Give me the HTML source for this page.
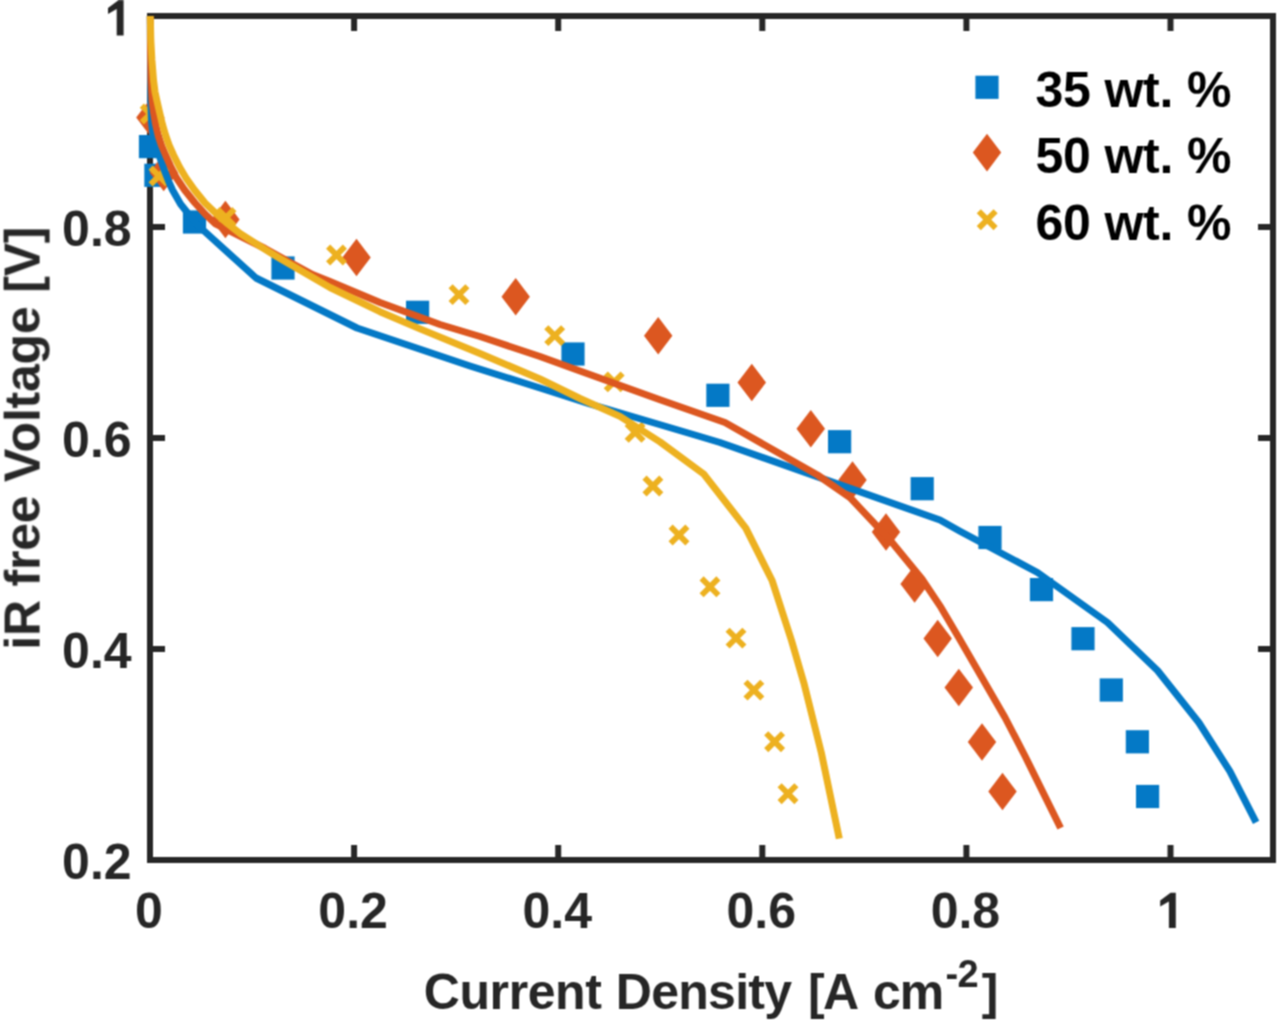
<!DOCTYPE html>
<html><head><meta charset="utf-8"><title>Polarization curves</title>
<style>html,body{margin:0;padding:0;background:#fff;width:1280px;height:1024px;overflow:hidden}svg{display:block}</style>
</head><body>
<svg width="1280" height="1024" viewBox="0 0 1280 1024">
<defs><filter id="soft" x="0" y="0" width="1280" height="1024" filterUnits="userSpaceOnUse" color-interpolation-filters="sRGB"><feConvolveMatrix order="3" kernelMatrix="1 2 1 2 4 2 1 2 1" divisor="16" edgeMode="duplicate"/></filter></defs>
<g filter="url(#soft)">
<rect width="1280" height="1024" fill="#fff"/>
<rect x="150" y="16" width="1123" height="844" fill="none" stroke="#262626" stroke-width="6" stroke-linejoin="miter"/>
<line x1="354.1" y1="860" x2="354.1" y2="845" stroke="#262626" stroke-width="6"/>
<line x1="354.1" y1="16" x2="354.1" y2="31" stroke="#262626" stroke-width="6"/>
<line x1="558.2" y1="860" x2="558.2" y2="845" stroke="#262626" stroke-width="6"/>
<line x1="558.2" y1="16" x2="558.2" y2="31" stroke="#262626" stroke-width="6"/>
<line x1="762.3" y1="860" x2="762.3" y2="845" stroke="#262626" stroke-width="6"/>
<line x1="762.3" y1="16" x2="762.3" y2="31" stroke="#262626" stroke-width="6"/>
<line x1="966.4" y1="860" x2="966.4" y2="845" stroke="#262626" stroke-width="6"/>
<line x1="966.4" y1="16" x2="966.4" y2="31" stroke="#262626" stroke-width="6"/>
<line x1="1170.5" y1="860" x2="1170.5" y2="845" stroke="#262626" stroke-width="6"/>
<line x1="1170.5" y1="16" x2="1170.5" y2="31" stroke="#262626" stroke-width="6"/>
<line x1="150" y1="649.0" x2="165" y2="649.0" stroke="#262626" stroke-width="6"/>
<line x1="1273" y1="649.0" x2="1258" y2="649.0" stroke="#262626" stroke-width="6"/>
<line x1="150" y1="438.0" x2="165" y2="438.0" stroke="#262626" stroke-width="6"/>
<line x1="1273" y1="438.0" x2="1258" y2="438.0" stroke="#262626" stroke-width="6"/>
<line x1="150" y1="227.0" x2="165" y2="227.0" stroke="#262626" stroke-width="6"/>
<line x1="1273" y1="227.0" x2="1258" y2="227.0" stroke="#262626" stroke-width="6"/>
<rect x="138.9" y="135.0" width="23.2" height="23.2" fill="#0479C6"/>
<rect x="144.3" y="163.7" width="23.2" height="23.2" fill="#0479C6"/>
<rect x="182.9" y="210.4" width="23.2" height="23.2" fill="#0479C6"/>
<rect x="271.4" y="256.4" width="23.2" height="23.2" fill="#0479C6"/>
<rect x="406.0" y="300.7" width="23.2" height="23.2" fill="#0479C6"/>
<rect x="561.4" y="342.4" width="23.2" height="23.2" fill="#0479C6"/>
<rect x="706.3" y="383.7" width="23.2" height="23.2" fill="#0479C6"/>
<rect x="828.0" y="430.1" width="23.2" height="23.2" fill="#0479C6"/>
<rect x="910.6" y="477.1" width="23.2" height="23.2" fill="#0479C6"/>
<rect x="978.4" y="525.9" width="23.2" height="23.2" fill="#0479C6"/>
<rect x="1029.9" y="578.0" width="23.2" height="23.2" fill="#0479C6"/>
<rect x="1071.4" y="627.1" width="23.2" height="23.2" fill="#0479C6"/>
<rect x="1099.7" y="678.4" width="23.2" height="23.2" fill="#0479C6"/>
<rect x="1125.8" y="730.2" width="23.2" height="23.2" fill="#0479C6"/>
<rect x="1136.0" y="784.9" width="23.2" height="23.2" fill="#0479C6"/>
<polygon points="150.4,98.7 164.6,117.5 150.4,136.3 136.2,117.5" fill="#DC5720"/>
<polygon points="163.7,153.7 177.9,172.5 163.7,191.3 149.5,172.5" fill="#DC5720"/>
<polygon points="225.4,200.7 239.6,219.5 225.4,238.3 211.2,219.5" fill="#DC5720"/>
<polygon points="356.5,238.7 370.7,257.5 356.5,276.3 342.3,257.5" fill="#DC5720"/>
<polygon points="515.7,277.9 529.9,296.7 515.7,315.5 501.5,296.7" fill="#DC5720"/>
<polygon points="658.2,316.9 672.4,335.7 658.2,354.5 644.0,335.7" fill="#DC5720"/>
<polygon points="751.8,363.7 766.0,382.5 751.8,401.3 737.5,382.5" fill="#DC5720"/>
<polygon points="810.8,409.9 825.0,428.8 810.8,447.6 796.5,428.8" fill="#DC5720"/>
<polygon points="852.5,461.2 866.7,480.0 852.5,498.8 838.3,480.0" fill="#DC5720"/>
<polygon points="886.0,513.2 900.2,532.0 886.0,550.8 871.8,532.0" fill="#DC5720"/>
<polygon points="914.6,565.2 928.8,584.0 914.6,602.8 900.4,584.0" fill="#DC5720"/>
<polygon points="937.7,619.7 951.9,638.5 937.7,657.3 923.5,638.5" fill="#DC5720"/>
<polygon points="958.8,668.7 973.0,687.5 958.8,706.3 944.5,687.5" fill="#DC5720"/>
<polygon points="982.0,723.2 996.2,742.0 982.0,760.8 967.8,742.0" fill="#DC5720"/>
<polygon points="1002.5,772.7 1016.7,791.5 1002.5,810.3 988.3,791.5" fill="#DC5720"/>
<path d="M141.8,105.6L158.6,122.4M158.6,105.6L141.8,122.4" stroke="#EDB120" stroke-width="5.8" fill="none"/>
<path d="M150.6,167.6L167.4,184.4M167.4,167.6L150.6,184.4" stroke="#EDB120" stroke-width="5.8" fill="none"/>
<path d="M217.6,209.1L234.4,225.9M234.4,209.1L217.6,225.9" stroke="#EDB120" stroke-width="5.8" fill="none"/>
<path d="M328.1,246.6L344.9,263.4M344.9,246.6L328.1,263.4" stroke="#EDB120" stroke-width="5.8" fill="none"/>
<path d="M450.6,286.2L467.4,303.0M467.4,286.2L450.6,303.0" stroke="#EDB120" stroke-width="5.8" fill="none"/>
<path d="M546.3,327.2L563.1,344.0M563.1,327.2L546.3,344.0" stroke="#EDB120" stroke-width="5.8" fill="none"/>
<path d="M605.8,373.5L622.6,390.3M622.6,373.5L605.8,390.3" stroke="#EDB120" stroke-width="5.8" fill="none"/>
<path d="M626.7,423.9L643.5,440.7M643.5,423.9L626.7,440.7" stroke="#EDB120" stroke-width="5.8" fill="none"/>
<path d="M644.5,477.6L661.3,494.4M661.3,477.6L644.5,494.4" stroke="#EDB120" stroke-width="5.8" fill="none"/>
<path d="M670.6,526.6L687.4,543.4M687.4,526.6L670.6,543.4" stroke="#EDB120" stroke-width="5.8" fill="none"/>
<path d="M701.6,578.4L718.4,595.2M718.4,578.4L701.6,595.2" stroke="#EDB120" stroke-width="5.8" fill="none"/>
<path d="M727.6,629.7L744.4,646.5M744.4,629.7L727.6,646.5" stroke="#EDB120" stroke-width="5.8" fill="none"/>
<path d="M745.5,681.7L762.3,698.5M762.3,681.7L745.5,698.5" stroke="#EDB120" stroke-width="5.8" fill="none"/>
<path d="M766.2,733.3L783.0,750.1M783.0,733.3L766.2,750.1" stroke="#EDB120" stroke-width="5.8" fill="none"/>
<path d="M779.6,785.3L796.4,802.1M796.4,785.3L779.6,802.1" stroke="#EDB120" stroke-width="5.8" fill="none"/>
<g fill="none" stroke-width="7" stroke-linejoin="round">
<polyline points="150.3,16.0 150.5,60.0 150.8,100.0 151.5,122.0 153.0,135.0 155.5,145.0 158.3,153.0 161.5,162.0 165.0,172.0 168.5,181.0 172.5,190.0 180.5,204.0 186.5,211.5 197.5,225.0 256.0,278.0 357.0,328.0 470.0,366.0 540.0,388.0 590.0,404.0 700.0,436.5 720.0,442.5 940.0,520.0 960.0,531.2 1037.5,572.5 1107.5,622.5 1157.5,670.5 1198.8,722.5 1229.8,771.2 1256.1,822.4" stroke="#0479C6"/>
<polyline points="150.3,16.0 150.5,50.0 151.0,80.0 152.0,100.0 153.5,112.0 155.5,124.0 158.3,136.0 161.7,146.0 165.5,155.0 170.5,166.0 176.5,178.0 184.6,190.0 195.0,203.0 205.0,214.0 215.0,223.5 230.0,231.0 250.0,241.0 265.0,248.5 284.0,259.0 312.5,274.5 330.0,281.5 380.0,302.5 440.0,324.5 480.0,336.5 540.0,356.5 580.0,371.0 660.0,399.7 725.0,422.5 817.5,475.0 850.0,497.5 890.0,540.0 922.0,579.0 941.0,607.4 959.0,638.0 1005.0,717.5 1025.0,756.0 1060.6,828.0" stroke="#DC5720"/>
<polyline points="150.3,16.0 150.8,40.0 151.9,60.0 153.5,80.0 155.0,92.0 157.2,102.0 159.5,112.0 162.3,124.0 165.5,135.0 169.0,145.0 173.5,155.0 179.5,167.0 186.0,178.0 194.5,190.0 205.0,203.0 216.0,213.5 228.0,224.0 240.0,233.5 265.0,249.4 280.0,258.5 330.0,287.5 380.0,311.7 420.0,328.9 480.0,353.5 540.0,379.0 580.0,398.5 620.0,416.4 660.0,441.9 704.0,474.3 745.8,528.1 772.2,580.8 791.5,640.5 803.8,682.7 821.4,753.0 839.3,838.6" stroke="#EDB120"/>
</g>
<g font-family="Liberation Sans, sans-serif" font-weight="bold" font-size="50" fill="#262626"><text x="149.0" y="928.3" text-anchor="middle">0</text><text x="353.1" y="928.3" text-anchor="middle">0.2</text><text x="557.2" y="928.3" text-anchor="middle">0.4</text><text x="761.3" y="928.3" text-anchor="middle">0.6</text><text x="965.4" y="928.3" text-anchor="middle">0.8</text><text x="131.6" y="879.2" text-anchor="end">0.2</text><text x="131.6" y="668.2" text-anchor="end">0.4</text><text x="131.6" y="457.2" text-anchor="end">0.6</text><text x="131.6" y="246.2" text-anchor="end">0.8</text></g>
<path d="M1175.8,928.0L1175.8,892.8L1170.6,892.8L1160.2,900.6L1160.2,906.5L1168.9,901.4L1168.9,928.0Z" fill="#262626"/>
<path d="M123.6,35.5L123.6,0.3L118.4,0.3L108.0,8.1L108.0,14.0L116.7,8.9L116.7,35.5Z" fill="#262626"/>
<g font-family="Liberation Sans, sans-serif" font-weight="bold" font-size="50" fill="#262626"><text x="423.75" y="1008.6" letter-spacing="-0.4">Current</text><text x="615.86" y="1008.6" letter-spacing="-0.75">Density</text><text x="807.99" y="1008.6">[</text><text x="822.95" y="1008.6">A</text><text x="872.95" y="1008.6" letter-spacing="-1">cm</text><text x="945.52" y="986.5" font-size="38">-</text><text x="957.58" y="986.5" font-size="38">2</text><text x="981.79" y="1008.6">]</text></g>
<text transform="translate(39.6,438.3) rotate(-90)" text-anchor="middle" font-family="Liberation Sans, sans-serif" font-weight="bold" font-size="50" letter-spacing="-0.2" fill="#262626">iR free Voltage [V]</text>
<rect x="975.4" y="75.7" width="23.2" height="23.2" fill="#0479C6"/>
<polygon points="987.0,133.8 1001.2,152.6 987.0,171.4 972.8,152.6" fill="#DC5720"/>
<path d="M978.8,211.3L995.6,228.1M995.6,211.3L978.8,228.1" stroke="#EDB120" stroke-width="5.8" fill="none"/>
<g font-family="Liberation Sans, sans-serif" font-weight="bold" font-size="50" fill="#000"><text x="1035.5" y="107" letter-spacing="-0.2">35 wt. %</text><text x="1035.5" y="173.2" letter-spacing="-0.2">50 wt. %</text><text x="1035.5" y="239.5" letter-spacing="-0.2">60 wt. %</text></g>
</g>
</svg>
</body></html>
